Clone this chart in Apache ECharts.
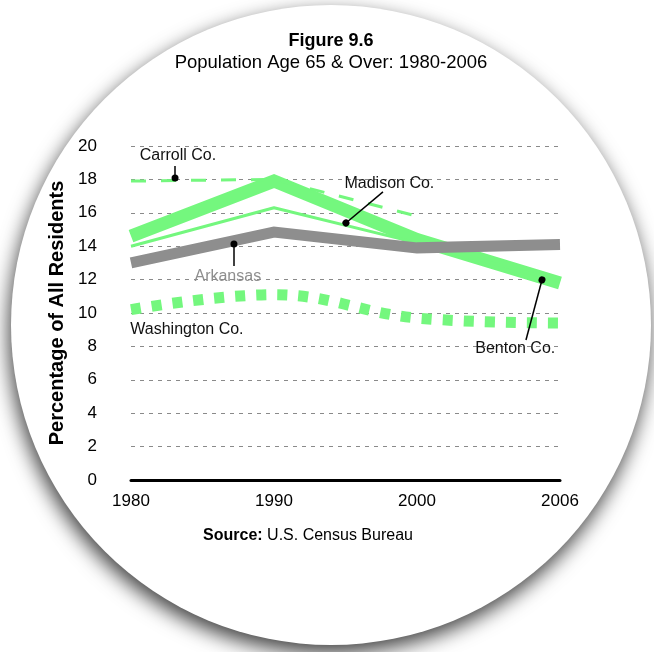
<!DOCTYPE html>
<html>
<head>
<meta charset="utf-8">
<script src="https://cdn.jsdelivr.net/npm/echarts@6/dist/echarts.min.js"></script>
<style>
  html, body { margin: 0; padding: 0; background: #fff; }
  #main { width: 654px; height: 652px; }
</style>
</head>
<body>
<div id="main"></div>
<script>
var years = ['1980', '1990', '2000', '2006'];
var benton = [14.6, 17.9, 14.4, 11.8];
var madison = [14.0, 16.3, 14.2, 11.9];
var carroll = [17.9, 18.0, 15.8, null];
var arkansas = [13.0, 14.85, 13.9, 14.1];
var washington = [10.2, 11.1, 9.7, 9.4];
var yTicks = [0, 2, 4, 6, 8, 10, 12, 14, 16, 18, 20];

var green = '#74f77e', grey = '#8e8e8e';
var font = '"Liberation Sans", Arial, sans-serif';

function pts(arr) {
    return arr.map(function (v, i) { return [i, v]; });
}

// callouts: dot -> end of leader, and label centres (data coords)
var leaders = [
    [[0.308, 18.08], [0.308, 18.8]],
    [[1.503, 15.39], [1.762, 17.25]],
    [[0.72, 14.13], [0.72, 12.81]],
    [[2.874, 11.98], [2.762, 8.38]]
];
var labels = [
    { name: 'Carroll Co.', coord: [0.328, 19.4], color: '#111' },
    { name: 'Madison Co.', coord: [1.807, 17.72], color: '#111' },
    { name: 'Arkansas', coord: [0.677, 12.16], color: grey },
    { name: 'Washington Co.', coord: [0.391, 8.98], color: '#111' },
    { name: 'Benton Co.', coord: [2.687, 7.84], color: '#111' }
];

var myChart = echarts.init(document.getElementById('main'));

var option = {
    animation: false,
    backgroundColor: '#fff',
    textStyle: { fontFamily: font },
    graphic: [{
        type: 'circle',
        z: -10,
        shape: { cx: 331, cy: 325, r: 320 },
        style: {
            fill: '#fff',
            shadowBlur: 20,
            shadowColor: 'rgba(0,0,0,0.75)',
            shadowOffsetX: -2,
            shadowOffsetY: 8
        }
    }],
    title: [{
        text: 'Figure 9.6',
        subtext: 'Population Age 65 & Over: 1980-2006',
        left: 326,
        textAlign: 'center',
        top: 27,
        itemGap: 3,
        textStyle: { fontFamily: font, fontSize: 18, fontWeight: 'bold', color: '#000' },
        subtextStyle: { fontFamily: font, fontSize: 18.5, color: '#000' }
    }, {
        text: '{b|Source:} U.S. Census Bureau',
        left: 303,
        textAlign: 'center',
        top: 523,
        textStyle: {
            fontFamily: font, fontSize: 16, fontWeight: 'normal', color: '#000',
            rich: { b: { fontFamily: font, fontSize: 16, fontWeight: 'bold', color: '#000' } }
        }
    }],
    grid: { left: 131, right: 94, top: 146, bottom: 172 },
    xAxis: {
        type: 'value',
        min: 0,
        max: 3,
        interval: 1,
        axisLine: { show: true, onZero: true, lineStyle: { color: '#000', width: 3 } },
        axisTick: { show: false },
        splitLine: { show: false },
        axisLabel: {
            margin: 13,
            fontSize: 17,
            color: '#000',
            formatter: function (v) { return years[v]; }
        }
    },
    yAxis: {
        type: 'value',
        min: yTicks[0],
        max: yTicks[yTicks.length - 1],
        interval: 2,
        name: 'Percentage of All Residents',
        nameLocation: 'middle',
        nameGap: 54,
        nameTextStyle: { fontFamily: font, fontSize: 20, fontWeight: 'bold', color: '#000' },
        axisLine: { show: false },
        axisTick: { show: false },
        axisLabel: { margin: 34, fontSize: 17, color: '#000' },
        splitLine: { lineStyle: { color: '#8a8a8a', width: 1, type: [4, 5] } }
    },
    series: [{
        name: 'Washington Co.',
        type: 'line',
        smooth: 0.4,
        symbol: 'none',
        data: pts(washington),
        lineStyle: { color: green, width: 11, type: [10, 11], cap: 'butt' }
    }, {
        name: 'Benton Co.',
        type: 'line',
        symbol: 'none',
        data: pts(benton),
        lineStyle: { color: green, width: 13, cap: 'butt', join: 'miter' }
    }, {
        name: 'Madison Co.',
        type: 'line',
        symbol: 'none',
        data: pts(madison),
        lineStyle: { color: green, width: 3 }
    }, {
        name: 'Carroll Co.',
        type: 'line',
        symbol: 'none',
        data: pts(carroll),
        lineStyle: { color: green, width: 3, type: [15, 15], cap: 'butt' }
    }, {
        name: 'Arkansas',
        type: 'line',
        symbol: 'none',
        data: pts(arkansas),
        lineStyle: { color: grey, width: 11, cap: 'butt', join: 'miter' }
    }, {
        name: 'callouts',
        type: 'line',
        data: [],
        z: 5,
        markLine: {
            silent: true,
            symbol: ['circle', 'none'],
            symbolSize: 7,
            label: { show: false },
            lineStyle: { color: '#000', width: 1.5, type: 'solid' },
            itemStyle: { color: '#000' },
            data: leaders.map(function (l) {
                return [{ coord: l[0] }, { coord: l[1] }];
            })
        },
        markPoint: {
            silent: true,
            symbol: 'circle',
            symbolSize: 1,
            itemStyle: { color: 'rgba(0,0,0,0)' },
            data: labels.map(function (l) {
                return {
                    name: l.name,
                    coord: l.coord,
                    label: {
                        show: true, position: 'inside', formatter: '{b}',
                        fontFamily: font, fontSize: 16, color: l.color
                    }
                };
            })
        }
    }]
};

myChart.setOption(option);

window.addEventListener('resize', function () {
    myChart.resize();
});
</script>
</body>
</html>
